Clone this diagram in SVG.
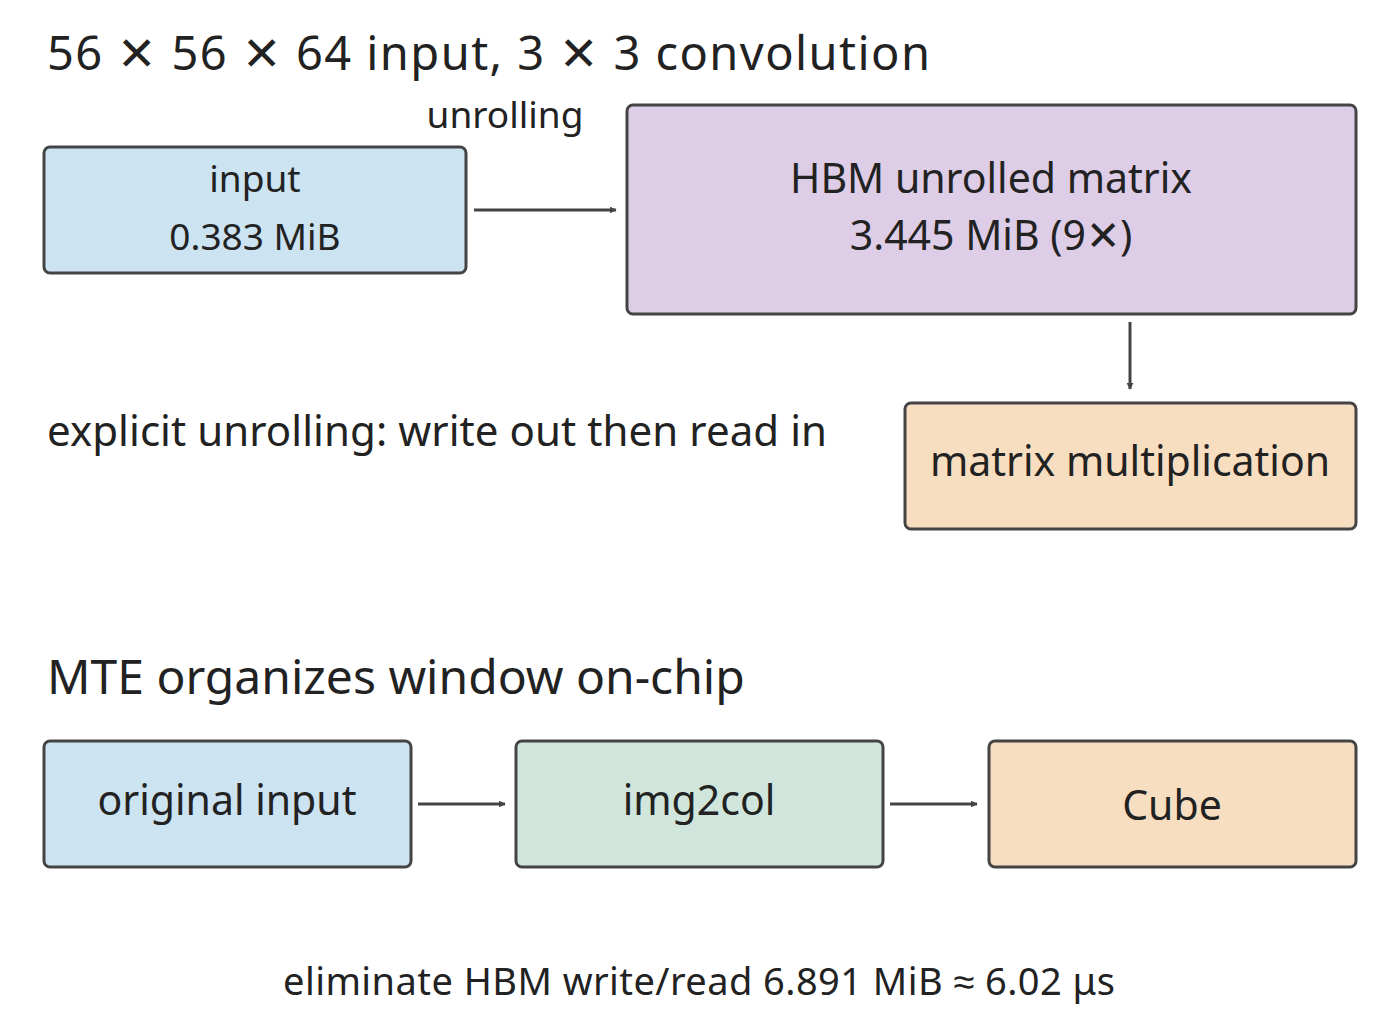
<svg xmlns="http://www.w3.org/2000/svg" width="1400" height="1035" viewBox="0 0 1400 1035">
<style>
text{font-family:"Noto Sans","Liberation Sans",sans-serif;fill:#222}
.c{text-anchor:middle}
.b{stroke:#444;stroke-width:3}
.e{stroke:#444;stroke-width:3;fill:none;marker-end:url(#a)}
</style>
<defs><marker id="a" viewBox="0 0 10 10" refX="9" refY="5" markerWidth="7" markerHeight="7" markerUnits="userSpaceOnUse" orient="auto"><path d="M0,0L10,5L0,10z" fill="#444"/></marker></defs>
<rect width="1400" height="1035" fill="#fff"/>
<text x="47" y="70" font-size="47" textLength="883">56 ✕ 56 ✕ 64 input, 3 ✕ 3 convolution</text>
<text x="505" y="128" font-size="37" class="c">unrolling</text>
<text x="47" y="446" font-size="42" textLength="780">explicit unrolling: write out then read in</text>
<text x="47" y="694" font-size="48">MTE organizes window on-chip</text>
<text x="699" y="995" font-size="38" class="c" textLength="832">eliminate HBM write/read 6.891 MiB ≈ 6.02 μs</text>
<g id="input"><rect class="b" x="44" y="147" width="422" height="126" rx="6" fill="#cce3f2"/><text x="255" y="192" font-size="37" class="c">input</text><text x="255" y="250" font-size="37" class="c">0.383 MiB</text></g>
<g id="hbm"><rect class="b" x="627" y="105" width="729" height="209" rx="6" fill="#ddcde6"/><text x="991" y="193" font-size="41" class="c">HBM unrolled matrix</text><text x="991" y="250" font-size="41" class="c">3.445 MiB (9✕)</text></g>
<g id="mm"><rect class="b" x="905" y="403" width="451" height="126" rx="6" fill="#f8dec0"/><text x="1130" y="476" font-size="41" class="c">matrix multiplication</text></g>
<g id="orig"><rect class="b" x="44" y="741" width="367" height="126" rx="6" fill="#cce3f2"/><text x="227" y="815" font-size="41" class="c">original input</text></g>
<g id="img2col"><rect class="b" x="516" y="741" width="367" height="126" rx="6" fill="#d0e6dc"/><text x="699" y="815" font-size="41" class="c">img2col</text></g>
<g id="cube"><rect class="b" x="989" y="741" width="367" height="126" rx="6" fill="#f8dec0"/><text x="1172" y="820" font-size="41" class="c">Cube</text></g>
<g id="connectors">
<path class="e" d="M474,210H616"/>
<path class="e" d="M1130,322V389"/>
<path class="e" d="M418,804H505"/>
<path class="e" d="M890,804H977"/>
</g>
</svg>
